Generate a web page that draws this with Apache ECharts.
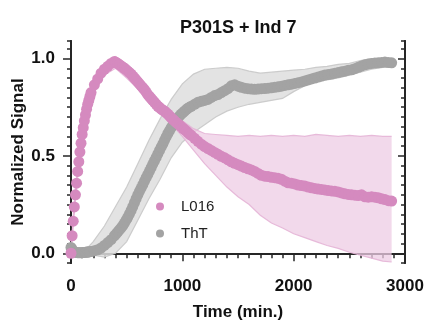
<!DOCTYPE html>
<html>
<head>
<meta charset="utf-8">
<script src="https://cdn.jsdelivr.net/npm/echarts@6/dist/echarts.min.js"></script>
<style>html,body{margin:0;padding:0;background:#fff;}#c{width:427px;height:322px;}</style>
</head>
<body>
<div id="c"></div>
<script>
// ---- data ----
const times = [0,10,20,30,40,50,60,70,80,90,100,110,120,130,140,150,160,170,180,
  210,240,270,300,330,360,
  390,405,420,435,450,465,480,495,510,525,540,555,570,585,600,615,630,645,660,675,
  690,705,720,735,750,765,780,795,810,825,840,855,870,885,900,915,930,945,960,975,
  990,1005,1020,1035,1050,1065,1080,
  1110,1140,1170,1200,1230,1260,1290,1320,1350,1380,
  1410,1440,1470,1500,1530,1560,1590,1620,1650,1680,
  1710,1740,1770,1800,1830,1860,1890,1920,1950,1980,
  2010,2040,2070,2100,2130,2160,2190,2220,2250,2280,
  2310,2340,2370,2400,2430,2460,2490,2520,2550,2580,
  2610,2640,2670,2700,2730,2760,2790,2820,2850,2880];
const l016 = [0,0.09,0.165,0.238,0.30,0.36,0.42,0.47,0.52,0.565,0.61,0.645,0.68,0.71,0.74,0.765,0.785,0.805,0.825,
  0.865,0.895,0.925,0.945,0.96,0.975,
  0.985,0.98,0.975,0.968,0.962,0.956,0.95,0.943,0.935,0.928,0.92,0.91,0.90,0.89,0.88,0.87,0.86,0.85,0.84,0.828,
  0.815,0.805,0.795,0.785,0.775,0.765,0.755,0.748,0.74,0.735,0.73,0.722,0.715,0.705,0.695,0.688,0.68,0.672,0.665,0.658,
  0.65,0.642,0.635,0.628,0.62,0.612,0.605,
  0.59,0.575,0.56,0.548,0.538,0.528,0.518,0.508,0.498,0.49,
  0.48,0.47,0.462,0.455,0.448,0.44,0.434,0.428,0.42,0.41,
  0.40,0.396,0.394,0.39,0.388,0.385,0.38,0.37,0.362,0.36,
  0.356,0.35,0.348,0.345,0.34,0.336,0.333,0.33,0.328,0.325,
  0.322,0.32,0.318,0.315,0.31,0.305,0.302,0.30,0.298,0.296,
  0.30,0.29,0.288,0.29,0.288,0.285,0.28,0.276,0.27,0.268];
const tht = [0.03,0.02,0.012,0.008,0.005,0.004,0.003,0.003,0.003,0.003,0.003,0.004,0.004,0.005,0.005,0.006,0.007,0.008,0.009,
  0.013,0.018,0.027,0.04,0.055,0.07,
  0.09,0.10,0.11,0.12,0.13,0.142,0.155,0.17,0.185,0.202,0.22,0.24,0.26,0.28,0.30,0.318,0.335,0.352,0.37,0.388,
  0.405,0.422,0.44,0.458,0.475,0.492,0.51,0.528,0.545,0.562,0.58,0.598,0.615,0.63,0.645,0.658,0.67,0.682,0.695,0.705,
  0.715,0.722,0.73,0.738,0.745,0.75,0.755,
  0.765,0.775,0.78,0.785,0.79,0.80,0.81,0.815,0.825,0.835,
  0.845,0.86,0.865,0.858,0.852,0.848,0.845,0.843,0.842,0.843,
  0.845,0.846,0.848,0.85,0.852,0.855,0.858,0.862,0.865,0.868,
  0.872,0.876,0.88,0.885,0.89,0.895,0.9,0.905,0.91,0.915,
  0.918,0.92,0.925,0.928,0.932,0.935,0.94,0.942,0.948,0.955,
  0.962,0.968,0.972,0.975,0.977,0.978,0.98,0.982,0.98,0.978];
// error band bounds
const bandT = [0,20,40,60,80,100,130,160,200,300,400,500,600,700,800,900,1000,1100,1200,1300,1400,1500,1600,1700,1800,1900,2000,2100,2200,2300,2400,2500,2600,2700,2800,2880];
const l016Lo = [-0.02,0.14,0.27,0.39,0.49,0.58,0.68,0.755,0.83,0.915,0.95,0.9,0.845,0.77,0.715,0.665,0.60,0.53,0.46,0.40,0.34,0.29,0.25,0.195,0.155,0.13,0.10,0.08,0.06,0.04,0.025,0.005,-0.01,-0.025,-0.04,-0.045];
const l016Hi = [0.02,0.19,0.33,0.45,0.55,0.64,0.74,0.815,0.89,0.975,1.01,0.97,0.915,0.84,0.78,0.73,0.68,0.64,0.615,0.61,0.605,0.60,0.605,0.60,0.605,0.60,0.605,0.60,0.61,0.605,0.60,0.605,0.60,0.605,0.60,0.60];
const thtLo = [0.0,-0.005,-0.01,-0.01,-0.01,-0.01,-0.01,-0.01,-0.01,-0.02,0.0,0.06,0.17,0.28,0.38,0.49,0.57,0.62,0.66,0.70,0.73,0.75,0.765,0.775,0.785,0.795,0.83,0.86,0.88,0.89,0.90,0.915,0.93,0.945,0.955,0.955];
const thtHi = [0.06,0.03,0.02,0.02,0.02,0.025,0.03,0.035,0.06,0.14,0.24,0.34,0.46,0.58,0.69,0.79,0.87,0.92,0.945,0.95,0.955,0.95,0.935,0.925,0.93,0.935,0.94,0.945,0.955,0.96,0.97,0.975,0.99,1.0,1.0,1.0];
const xTicks = [0,1000,2000,3000];
const yTicks = [0,0.5,1.0];

// ---- chart ----
const FONT = '"Liberation Sans", Arial, Helvetica, sans-serif';
const AX = '#262626';
const PINK = '#d58abf', GRAY = '#a3a3a3';
const yMin = -0.05, yMax = 1.09;

function band(name, lo, hi, fill, edge, z) {
  return {
    type: 'custom', name: name, silent: true, z: z, yAxisIndex: 1,
    data: bandT.map((t, i) => [t, lo[i], hi[i]]),
    encode: { x: 0, y: [1, 2] },
    renderItem: function (params, api) {
      if (params.dataIndex !== 0) return null;
      const top = bandT.map((t, i) => api.coord([t, hi[i]]));
      const bot = bandT.map((t, i) => api.coord([t, lo[i]])).reverse();
      return { type: 'group', children: [
        { type: 'polygon', shape: { points: top.concat(bot) }, style: { fill: fill } },
        { type: 'polyline', shape: { points: top }, style: { stroke: edge, lineWidth: 1.2, fill: null } },
        { type: 'polyline', shape: { points: bot }, style: { stroke: edge, lineWidth: 1.2, fill: null } }
      ]};
    }
  };
}

const tickStyle = { color: AX, width: 1.5 };
const lineStyle = { color: AX, width: 2 };
function yAx(pos, inside, major, extra) {
  const a = {
    type: 'value', position: pos, min: yMin, max: yMax,
    axisLine: { show: true, lineStyle: lineStyle },
    splitLine: { show: false },
    axisTick: { show: true, inside: inside, length: major ? (inside ? 7 : 8) : 4, lineStyle: tickStyle },
    axisLabel: { show: false }
  };
  if (major) {
    a.axisTick.customValues = yTicks;
  } else {
    a.interval = 0.05;
  }
  return Object.assign(a, extra || {});
}

const chart = echarts.init(document.getElementById('c'), null, { renderer: 'canvas' });
chart.setOption({
  animation: false,
  backgroundColor: '#fff',
  textStyle: { fontFamily: FONT },
  title: {
    text: 'P301S + Ind 7', left: 175, top: 14,
    textStyle: { fontSize: 18, fontWeight: 'bold', color: '#111', fontFamily: FONT }
  },
  legend: {
    data: ['L016', 'ThT'], orient: 'vertical', left: 151, top: 194,
    itemWidth: 8, itemHeight: 8, itemGap: 12, icon: 'circle',
    textStyle: { fontSize: 15, color: '#222', fontFamily: FONT, padding: [0, 0, 0, 12] }
  },
  grid: { left: 71, right: 22, top: 41, bottom: 59, containLabel: false, outerBoundsMode: 'none' },
  xAxis: [
    {
      type: 'value', position: 'bottom', min: xTicks[0], max: xTicks[xTicks.length - 1], interval: 1000,
      axisLine: { show: true, lineStyle: lineStyle },
      axisTick: { show: true, inside: false, length: 8, lineStyle: tickStyle },
      minorTick: { show: true, splitNumber: 10, length: 5, lineStyle: tickStyle },
      splitLine: { show: false }, minorSplitLine: { show: false },
      axisLabel: { fontSize: 17, fontWeight: 'bold', color: '#111', margin: 15, fontFamily: FONT,
        formatter: v => String(v) },
      name: 'Time (min.)', nameLocation: 'middle', nameGap: 41, nameMoveOverlap: false,
      nameTextStyle: { fontSize: 17, fontWeight: 'bold', color: '#111', fontFamily: FONT }
    },
    {
      type: 'value', position: 'top', min: xTicks[0], max: xTicks[xTicks.length - 1], interval: 1000,
      axisLine: { show: true, lineStyle: lineStyle },
      axisTick: { show: true, inside: true, length: 7, lineStyle: tickStyle },
      minorTick: { show: true, splitNumber: 10, length: 4, lineStyle: tickStyle },
      splitLine: { show: false }, minorSplitLine: { show: false },
      axisLabel: { show: false }
    }
  ],
  yAxis: [
    yAx('left', false, false),
    yAx('left', false, true, {
      axisLabel: { show: true, customValues: yTicks, formatter: v => Number(v).toFixed(1),
        fontSize: 17, fontWeight: 'bold', color: '#111', margin: 16, fontFamily: FONT },
      name: 'Normalized Signal', nameLocation: 'middle', nameGap: 44, nameMoveOverlap: false,
      nameTextStyle: { fontSize: 17, fontWeight: 'bold', color: '#111', fontFamily: FONT }
    }),
    yAx('right', true, false),
    yAx('right', true, true)
  ],
  series: [
    band('ThT band', thtLo, thtHi, 'rgba(222,222,222,0.85)', 'rgba(200,200,200,0.9)', 1),
    band('L016 band', l016Lo, l016Hi, 'rgba(238,204,228,0.75)', 'rgba(228,180,214,0.9)', 2),
    {
      name: 'ThT', type: 'scatter', yAxisIndex: 1, z: 3,
      data: times.map((t, i) => [t, tht[i]]),
      symbol: 'circle', symbolSize: 11, itemStyle: { color: GRAY, opacity: 1 }
    },
    {
      name: 'L016', type: 'scatter', yAxisIndex: 1, z: 4,
      data: times.map((t, i) => [t, l016[i]]),
      symbol: 'circle', symbolSize: 11, itemStyle: { color: PINK, opacity: 1 }
    }
  ]
});
</script>
</body>
</html>
